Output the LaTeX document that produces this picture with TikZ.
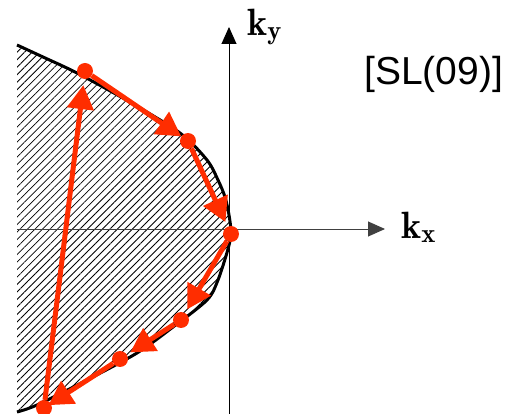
\documentclass[tikz,border=0pt]{standalone}
\usepackage{fontspec}
\newfontfamily\tagfont{Liberation Sans}
\usetikzlibrary{arrows.meta,patterns.meta}
\definecolor{hopred}{RGB}{255,45,0}

\begin{document}
\begin{tikzpicture}[
 x=1pt,y=-1pt,
 every node/.style={inner sep=0pt},
 axis/.style={line width=0.9pt,-{Triangle[length=17pt,width=15pt]}},
 hop/.style={hopred,line width=5pt,-{Triangle[length=24pt,width=26pt]}},
 site/.style={circle,fill=hopred,minimum size=16pt},
 klabel/.style={anchor=base west,font=\fontsize{38}{42}\selectfont}
]
 \useasboundingbox (0,0) rectangle (512,414);

 % occupied region, closed along the left edge
 \fill[pattern={Lines[angle=45,distance=5.3pt,line width=0.8pt]}]
  plot[smooth] coordinates
  {(17,45) (43,57) (77,73) (128,101) (180,133) (207,160)
   (218,180) (225,197) (229,215) (231,233) (228,249) (218,280)
   (207,300) (173,327) (137,353) (85,381) (37,405) (17,412)}
  -- cycle;

 \coordinate (xl) at (17,229);
 \coordinate (xr) at (385,229);
 \coordinate (yb) at (229,414);
 \coordinate (yt) at (229,27);
 \draw[axis,black!75] (xl) -- (xr);
 \draw[axis] (yb) -- (yt);
 \node[klabel] (kx) at (401,239) {$\mathbf{k}_\mathbf{x}$};
 \node[klabel] (ky) at (247,36) {$\mathbf{k}_\mathbf{y}$};
 \node[anchor=base west,font=\tagfont\fontsize{39}{44}\selectfont]
  (tag) at (364,85) {[SL(09)]};

 \draw[line width=3pt]
  plot[smooth] coordinates
  {(17,45) (43,57) (77,73) (128,101) (180,133) (207,160)
   (218,180) (225,197) (229,215) (231,233) (228,249) (218,280)
   (207,300) (173,327) (137,353) (85,381) (37,405) (17,412)};

 \node[site] (p1) at (85,71) {};
 \node[site] (p2) at (188,141) {};
 \node[site] (p3) at (231,234) {};
 \node[site] (p4) at (181,320) {};
 \node[site] (p5) at (120,359) {};
 \node[site] (p6) at (44,408) {};

 \draw[hop] (p1) -- (p2);
 \draw[hop,shorten >=5pt] (p2) -- (p3);
 \draw[hop,shorten >=4pt] (p3) -- (p4);
 \draw[hop,shorten >=4pt] (p4) -- (p5);
 \draw[hop,shorten >=-3pt] (p5) -- (p6);
 \draw[hop,shorten >=6pt] (p6) -- (p1);
\end{tikzpicture}
\end{document}
